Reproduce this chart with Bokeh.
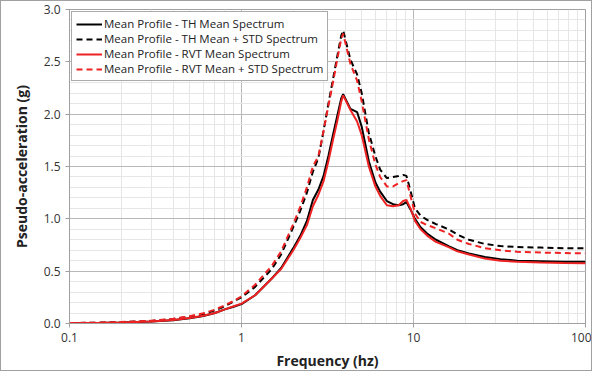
from bokeh.plotting import figure
from bokeh.models import FixedTicker, Range1d, Legend, LegendItem
from bokeh.embed import file_html
from bokeh.resources import INLINE

freq = [0.1, 0.15, 0.2, 0.3, 0.4, 0.5, 0.6, 0.7, 0.8, 0.9,
        1.0, 1.2, 1.5, 1.7, 2.0, 2.2, 2.4, 2.6, 2.8, 3.0,
        3.2, 3.4, 3.6, 3.8, 3.9, 4.3, 4.7, 5.0, 5.5, 6.0,
        6.4, 7.0, 7.6, 8.2, 8.7, 9.1, 9.6, 10.2, 11, 12,
        13.5, 16, 18, 21, 26, 32, 40, 55, 75, 100]

th_mean = [0.003, 0.006, 0.01, 0.018, 0.032, 0.05, 0.072, 0.1, 0.135, 0.16,
           0.185, 0.27, 0.43, 0.53, 0.72, 0.84, 0.98, 1.18, 1.28, 1.41,
           1.6, 1.8, 1.98, 2.15, 2.19, 2.05, 2.02, 1.88, 1.55, 1.35,
           1.26, 1.17, 1.14, 1.13, 1.14, 1.16, 1.09, 1.0, 0.92, 0.86,
           0.8, 0.74, 0.7, 0.67, 0.635, 0.615, 0.60, 0.595, 0.59, 0.59]

th_std = [0.004, 0.008, 0.013, 0.025, 0.042, 0.065, 0.09, 0.125, 0.165, 0.21,
          0.25, 0.35, 0.52, 0.66, 0.92, 1.08, 1.25, 1.45, 1.58, 1.84,
          2.1, 2.33, 2.55, 2.75, 2.8, 2.52, 2.38, 2.2, 1.82, 1.6,
          1.47, 1.39, 1.4, 1.41, 1.42, 1.41, 1.27, 1.1, 1.03, 0.99,
          0.95, 0.9, 0.85, 0.8, 0.76, 0.74, 0.73, 0.725, 0.72, 0.72]

rvt_mean = [0.003, 0.006, 0.01, 0.02, 0.034, 0.052, 0.075, 0.1, 0.135, 0.165,
            0.19, 0.27, 0.43, 0.52, 0.70, 0.82, 0.94, 1.12, 1.23, 1.36,
            1.55, 1.75, 1.93, 2.12, 2.18, 2.04, 1.93, 1.8, 1.5, 1.31,
            1.22, 1.13, 1.12, 1.13, 1.17, 1.18, 1.1, 0.98, 0.9, 0.84,
            0.78, 0.73, 0.69, 0.66, 0.62, 0.6, 0.59, 0.582, 0.578, 0.575]

rvt_std = [0.004, 0.008, 0.014, 0.027, 0.045, 0.07, 0.098, 0.132, 0.175, 0.215,
           0.26, 0.37, 0.55, 0.69, 0.95, 1.12, 1.3, 1.5, 1.6, 1.84,
           2.08, 2.3, 2.52, 2.72, 2.77, 2.48, 2.32, 2.12, 1.76, 1.52,
           1.4, 1.31, 1.31, 1.34, 1.36, 1.37, 1.22, 1.05, 0.97, 0.94,
           0.91, 0.86, 0.8, 0.76, 0.72, 0.7, 0.685, 0.678, 0.673, 0.67]

x_ticks = [0.1, 1, 10, 100]
x_tick_labels = ["0.1", "1", "10", "100"]
y_ticks = [0.0, 0.5, 1.0, 1.5, 2.0, 2.5, 3.0]
y_tick_labels = ["0.0", "0.5", "1.0", "1.5", "2.0", "2.5", "3.0"]

series_names = ["Mean Profile - TH Mean Spectrum",
                "Mean Profile - TH Mean + STD Spectrum",
                "Mean Profile - RVT Mean Spectrum",
                "Mean Profile - RVT Mean + STD Spectrum"]

FONT = "Open Sans"

p = figure(width=592, height=371, x_axis_type="log", output_backend="svg", toolbar_location=None,
           x_range=Range1d(0.1, 100), y_range=Range1d(0, 3),
           min_border_left=68, min_border_right=8, min_border_top=8, min_border_bottom=46)
p.styles = {"border": "1px solid #a0a0a0"}

minor_x = []
for dec in [0.1, 1, 10]:
    for k in range(2, 10):
        minor_x.append(dec * k)
p.xaxis.ticker = FixedTicker(ticks=x_ticks, minor_ticks=minor_x)
p.yaxis.ticker = FixedTicker(ticks=y_ticks, minor_ticks=[i / 10 for i in range(31)])
p.xaxis.major_label_overrides = {t: l for t, l in zip(x_ticks, x_tick_labels)}
p.yaxis.major_label_overrides = {t: l for t, l in zip(y_ticks, y_tick_labels)}

p.xgrid.grid_line_color = "#b8b8b8"
p.ygrid.grid_line_color = "#b8b8b8"
p.xgrid.minor_grid_line_color = "#e6e6e6"
p.ygrid.minor_grid_line_color = "#e6e6e6"
p.outline_line_color = "#a0a0a0"

for ax in (p.xaxis[0], p.yaxis[0]):
    ax.axis_line_color = "#a0a0a0"
    ax.major_tick_line_color = "#a0a0a0"
    ax.major_tick_out = 4
    ax.major_tick_in = 0
    ax.minor_tick_line_color = None
    ax.major_label_text_font = FONT
    ax.major_label_text_font_size = "12px"
    ax.major_label_text_color = "#333333"
    ax.axis_label_text_font = FONT
    ax.axis_label_text_font_size = "14px"
    ax.axis_label_text_font_style = "bold"
    ax.axis_label_text_color = "#222222"

p.xaxis.axis_label = "Frequency (hz)"
p.yaxis.axis_label = "Pseudo-acceleration (g)"
p.xaxis.axis_label_standoff = 6
p.yaxis.axis_label_standoff = 10

r1 = p.line(freq, th_mean, line_color="black", line_width=2)
r2 = p.line(freq, th_std, line_color="black", line_width=2, line_dash="6 4")
r3 = p.line(freq, rvt_mean, line_color="#ee2222", line_width=2)
r4 = p.line(freq, rvt_std, line_color="#ee2222", line_width=2, line_dash="6 4")

legend = Legend(items=[LegendItem(label=n, renderers=[r]) for n, r in zip(series_names, [r1, r2, r3, r4])],
                location="top_left")
legend.margin = 2
legend.padding = 4
legend.spacing = 0
legend.label_height = 13
legend.glyph_height = 14
legend.glyph_width = 26
legend.label_standoff = 2
legend.label_text_font = FONT
legend.label_text_font_size = "11.5px"
legend.label_text_color = "#222222"
legend.border_line_color = "#555555"
legend.border_line_width = 1
legend.background_fill_alpha = 1
p.add_layout(legend, "center")

open("out.html", "w").write(file_html(p, INLINE))
